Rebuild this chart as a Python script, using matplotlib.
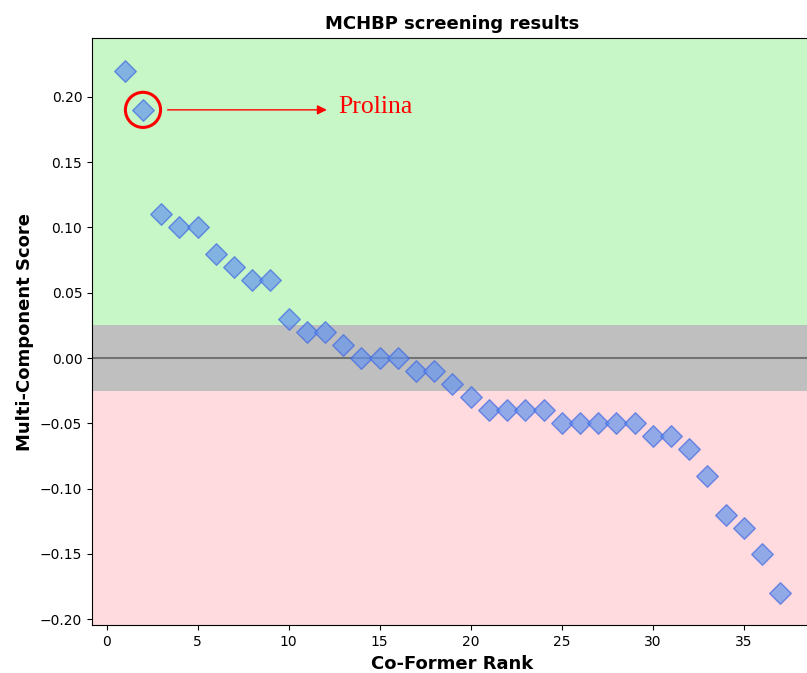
import matplotlib.pyplot as plt
import numpy as np

# co-former ranks and their multi-component scores
ranks = list(range(1, 38))
scores = [0.22, 0.19, 0.11, 0.10, 0.10, 0.08, 0.07, 0.06, 0.06, 0.03,
          0.02, 0.02, 0.01, 0.00, 0.00, 0.00, -0.01, -0.01, -0.02, -0.03,
          -0.04, -0.04, -0.04, -0.04, -0.05, -0.05, -0.05, -0.05, -0.05, -0.06,
          -0.06, -0.07, -0.09, -0.12, -0.13, -0.15, -0.18]

threshold = 0.025
highlight_rank = 2
highlight_name = "Prolina"
ytick_vals = [-0.20, -0.15, -0.10, -0.05, 0.00, 0.05, 0.10, 0.15, 0.20]

fig = plt.figure(figsize=(8.07, 6.73), dpi=100)
ax = fig.add_axes([0.114, 0.0709, 0.8934, 0.873])

ylo, yhi = -0.2046, 0.2452
ax.axhspan(threshold, yhi, color="lightgreen", alpha=0.5, lw=0, zorder=0)
ax.axhspan(-threshold, threshold, color="gray", alpha=0.5, lw=0, zorder=0)
ax.axhspan(ylo, -threshold, color="lightpink", alpha=0.5, lw=0, zorder=0)
ax.axhline(0, color="black", alpha=0.4, lw=1.5, zorder=1)

ax.scatter(ranks, scores, marker="D", s=120, c="cornflowerblue", alpha=0.7,
           edgecolors="royalblue", linewidths=1.0, zorder=3)

# mark the selected co-former
hx = ranks[highlight_rank - 1]
hy = scores[highlight_rank - 1]
ax.scatter([hx], [hy], marker="o", s=640, facecolors="none",
           edgecolors="red", linewidths=2.2, zorder=4)
ax.annotate("", xy=(hx + 10.25, hy), xytext=(hx + 1.2, hy),
            arrowprops=dict(arrowstyle="-|>", color="red", lw=1.0,
                            mutation_scale=14), zorder=4)
ax.text(hx + 10.75, hy + 0.002, highlight_name, color="red", fontsize=18.5,
        family="Liberation Serif", va="center", ha="left")

ax.set_xlim(-0.8, 38.8)
ax.set_ylim(ylo, yhi)
ax.set_xticks(np.arange(0, 40, 5))
ax.set_yticks(ytick_vals)
ax.set_yticklabels([f"{v:.2f}".replace("-", "\u2212") for v in ytick_vals])

ax.set_title("MCHBP screening results", fontsize=13, fontweight="bold")
ax.set_xlabel("Co-Former Rank", fontsize=13, fontweight="bold")
ax.set_ylabel("Multi-Component Score", fontsize=13, fontweight="bold")

fig.savefig("out.png", dpi=100)
